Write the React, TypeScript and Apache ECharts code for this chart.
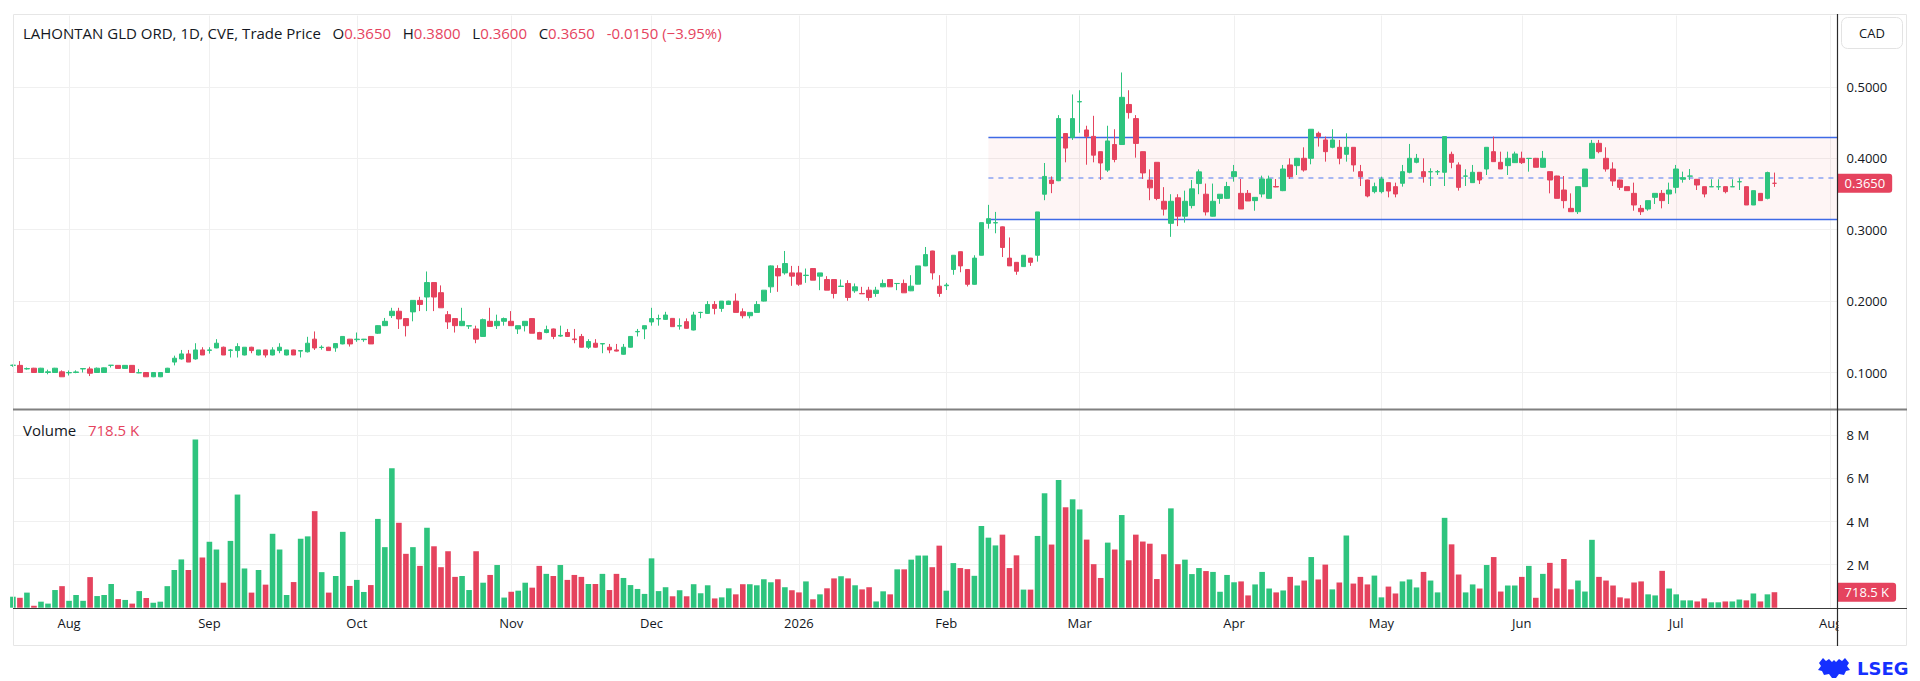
import React, { useEffect, useRef } from 'react';
import * as echarts from 'echarts';

// ---------- calendar ----------
const FIRST_DAY = [2025, 6, 22]; // 2025-07-22 (month is 0-based)
const SLOT_COUNT = 261; // trading days incl. empty right margin
const HOLIDAYS = [
  '2025-08-04', '2025-09-01', '2025-10-13', '2025-12-25', '2025-12-26',
  '2026-01-01', '2026-02-16', '2026-04-03', '2026-05-18', '2026-07-01', '2026-08-03',
];
const MONTH_LABELS = ['Jan', 'Feb', 'Mar', 'Apr', 'May', 'Jun', 'Jul', 'Aug', 'Sep', 'Oct', 'Nov', 'Dec'];

// ---------- price data (CAD) ----------
const OPEN = [
  0.110, 0.110, 0.105, 0.106, 0.100, 0.100, 0.100, 0.101, 0.0995, 0.100,
  0.105, 0.105, 0.100, 0.100, 0.110, 0.110, 0.1057, 0.110, 0.0995, 0.100,
  0.094, 0.094, 0.100, 0.1146, 0.119, 0.126, 0.119, 0.1316, 0.131, 0.1344,
  0.1354, 0.131, 0.1307, 0.1245, 0.1354, 0.1245, 0.1316, 0.1245, 0.1307, 0.1245,
  0.1316, 0.130, 0.129, 0.1467, 0.135, 0.1354, 0.1345, 0.140, 0.1467, 0.146,
  0.146, 0.1505, 0.155, 0.1656, 0.1797, 0.1858, 0.1755, 0.1849, 0.201, 0.2057,
  0.226, 0.2118, 0.181, 0.1755, 0.1656, 0.165, 0.161, 0.1505, 0.1717, 0.1656,
  0.1717, 0.1717, 0.161, 0.1656, 0.1755, 0.156, 0.156, 0.161, 0.151, 0.156,
  0.147, 0.1505, 0.1354, 0.141, 0.140, 0.1354, 0.1316, 0.1255, 0.1354, 0.157,
  0.161, 0.1708, 0.175, 0.1744, 0.1758, 0.165, 0.1712, 0.1595, 0.184, 0.1828,
  0.1953, 0.1898, 0.1953, 0.200, 0.185, 0.1795, 0.1842, 0.200, 0.220, 0.2456,
  0.2395, 0.2395, 0.2395, 0.2358, 0.2456, 0.2349, 0.2302, 0.2302, 0.2205, 0.2247,
  0.2144, 0.2107, 0.2153, 0.2107, 0.220, 0.2302, 0.2246, 0.2247, 0.2144, 0.2237,
  0.2493, 0.2702, 0.2209, 0.2215, 0.2443, 0.2692, 0.2443, 0.2235, 0.2642, 0.3089,
  0.3095, 0.304, 0.2602, 0.2543, 0.2483, 0.2602, 0.2642, 0.3497, 0.3696, 0.3686,
  0.4347, 0.4292, 0.4790, 0.4397, 0.4307, 0.4093, 0.3835, 0.4193, 0.4193, 0.4754,
  0.4556, 0.4093, 0.3696, 0.3944, 0.3398, 0.3089, 0.3447, 0.3189, 0.3338, 0.3646,
  0.3497, 0.3189, 0.3437, 0.3439, 0.3743, 0.3509, 0.3509, 0.3407, 0.350, 0.3439,
  0.3605, 0.3547, 0.3907, 0.3897, 0.400, 0.400, 0.435, 0.4257, 0.4154, 0.4154,
  0.4056, 0.4154, 0.3813, 0.3696, 0.3533, 0.3533, 0.3659, 0.3603, 0.365, 0.3804,
  0.3944, 0.3813, 0.381, 0.381, 0.3804, 0.4056, 0.3907, 0.375, 0.3659, 0.3804,
  0.385, 0.4093, 0.3944, 0.3897, 0.3939, 0.400, 0.3997, 0.400, 0.3874, 0.3813,
  0.3752, 0.3556, 0.3299, 0.3252, 0.3603, 0.400, 0.421, 0.400, 0.385, 0.3696,
  0.3603, 0.3509, 0.3299, 0.329, 0.3453, 0.3509, 0.350, 0.3593, 0.3706, 0.375,
  0.3706, 0.3603, 0.360, 0.360, 0.3603, 0.360, 0.367, 0.3603, 0.3346, 0.3509,
  0.3439, 0.365,
];
const HIGH = [
  0.111, 0.116, 0.107, 0.1065, 0.1065, 0.104, 0.1065, 0.103, 0.1028, 0.103,
  0.106, 0.108, 0.107, 0.107, 0.1105, 0.1105, 0.1105, 0.1105, 0.105, 0.1005,
  0.1005, 0.1005, 0.1065, 0.1236, 0.1316, 0.1316, 0.141, 0.1354, 0.1354, 0.1467,
  0.1363, 0.133, 0.141, 0.1354, 0.136, 0.1316, 0.132, 0.1354, 0.141, 0.1316,
  0.132, 0.1312, 0.150, 0.1575, 0.138, 0.136, 0.1405, 0.151, 0.147, 0.156,
  0.147, 0.151, 0.166, 0.1764, 0.1906, 0.1906, 0.176, 0.201, 0.206, 0.2415,
  0.2265, 0.222, 0.186, 0.176, 0.1906, 0.166, 0.1656, 0.1755, 0.1906, 0.181,
  0.177, 0.186, 0.1656, 0.172, 0.176, 0.157, 0.1656, 0.1615, 0.1656, 0.161,
  0.161, 0.154, 0.1467, 0.1467, 0.141, 0.140, 0.140, 0.140, 0.151, 0.161,
  0.1656, 0.1906, 0.181, 0.185, 0.176, 0.1758, 0.1758, 0.185, 0.185, 0.200,
  0.200, 0.200, 0.2005, 0.2107, 0.1898, 0.1842, 0.200, 0.2153, 0.250, 0.2502,
  0.2702, 0.2493, 0.2493, 0.2456, 0.246, 0.2395, 0.2349, 0.2305, 0.2302, 0.2293,
  0.2247, 0.220, 0.220, 0.220, 0.2302, 0.2305, 0.225, 0.2302, 0.2363, 0.2493,
  0.2758, 0.2705, 0.2363, 0.2255, 0.2645, 0.2695, 0.2445, 0.2642, 0.3099, 0.3348,
  0.3249, 0.3045, 0.2891, 0.2545, 0.2645, 0.2605, 0.3249, 0.3934, 0.3746, 0.4605,
  0.435, 0.4894, 0.4953, 0.4456, 0.4595, 0.4095, 0.4456, 0.4407, 0.5202, 0.4953,
  0.4605, 0.4095, 0.3845, 0.3945, 0.3596, 0.3497, 0.3497, 0.3547, 0.3696, 0.3845,
  0.3646, 0.3646, 0.350, 0.367, 0.3907, 0.371, 0.3556, 0.3455, 0.3757, 0.3757,
  0.371, 0.3907, 0.400, 0.4005, 0.4154, 0.4407, 0.4374, 0.4304, 0.4407, 0.4257,
  0.435, 0.4155, 0.3907, 0.370, 0.3659, 0.3743, 0.366, 0.3659, 0.3907, 0.4201,
  0.4061, 0.400, 0.386, 0.3836, 0.4304, 0.4093, 0.3944, 0.3846, 0.3907, 0.3805,
  0.4154, 0.4304, 0.4093, 0.4093, 0.4093, 0.4093, 0.400, 0.4005, 0.4103, 0.3815,
  0.3755, 0.3752, 0.3509, 0.3603, 0.385, 0.4257, 0.4257, 0.4154, 0.3944, 0.370,
  0.3605, 0.3659, 0.3346, 0.3407, 0.351, 0.3556, 0.3659, 0.3907, 0.3813, 0.385,
  0.371, 0.3605, 0.3706, 0.3706, 0.3605, 0.3706, 0.372, 0.3605, 0.3547, 0.351,
  0.3813, 0.380,
];
const LOW = [
  0.108, 0.0995, 0.104, 0.0995, 0.0995, 0.0975, 0.0995, 0.094, 0.0958, 0.099,
  0.100, 0.095, 0.0995, 0.0995, 0.107, 0.1055, 0.105, 0.0995, 0.099, 0.094,
  0.0935, 0.0935, 0.0995, 0.110, 0.118, 0.1146, 0.118, 0.1245, 0.1265, 0.134,
  0.1245, 0.121, 0.121, 0.124, 0.127, 0.124, 0.121, 0.124, 0.127, 0.124,
  0.1245, 0.121, 0.128, 0.1316, 0.132, 0.1307, 0.129, 0.1395, 0.1363, 0.143,
  0.143, 0.140, 0.154, 0.165, 0.1764, 0.161, 0.1505, 0.1717, 0.186, 0.186,
  0.186, 0.1906, 0.161, 0.156, 0.165, 0.161, 0.141, 0.150, 0.164, 0.161,
  0.1656, 0.1656, 0.154, 0.1575, 0.155, 0.1467, 0.155, 0.1467, 0.150, 0.150,
  0.141, 0.135, 0.133, 0.135, 0.127, 0.127, 0.1295, 0.125, 0.135, 0.1505,
  0.1467, 0.1656, 0.1656, 0.174, 0.1642, 0.160, 0.1615, 0.159, 0.176, 0.182,
  0.1814, 0.185, 0.195, 0.1842, 0.1758, 0.1758, 0.184, 0.1995, 0.2116, 0.213,
  0.237, 0.2214, 0.2214, 0.2256, 0.2293, 0.2153, 0.2153, 0.2037, 0.220, 0.2005,
  0.2116, 0.210, 0.2005, 0.206, 0.2195, 0.220, 0.2153, 0.2116, 0.214, 0.2235,
  0.249, 0.2302, 0.206, 0.2155, 0.2369, 0.2404, 0.2205, 0.223, 0.264, 0.3015,
  0.295, 0.2617, 0.2493, 0.2369, 0.248, 0.2493, 0.2553, 0.3413, 0.3512, 0.368,
  0.3944, 0.4257, 0.4357, 0.391, 0.3944, 0.3696, 0.381, 0.3944, 0.419, 0.4556,
  0.4009, 0.3711, 0.3413, 0.3413, 0.3199, 0.290, 0.305, 0.3099, 0.3298, 0.3497,
  0.3199, 0.3185, 0.3363, 0.343, 0.3673, 0.329, 0.3402, 0.3266, 0.3453, 0.3435,
  0.3595, 0.354, 0.371, 0.3766, 0.3813, 0.3916, 0.4164, 0.3953, 0.414, 0.3916,
  0.3953, 0.3813, 0.3612, 0.3453, 0.3509, 0.3509, 0.3453, 0.3453, 0.3603, 0.379,
  0.393, 0.3659, 0.3612, 0.3766, 0.3612, 0.386, 0.3547, 0.3612, 0.3655, 0.364,
  0.3766, 0.3953, 0.385, 0.3766, 0.3935, 0.392, 0.3813, 0.3874, 0.387, 0.3509,
  0.3439, 0.3299, 0.325, 0.322, 0.360, 0.3995, 0.407, 0.3813, 0.3612, 0.3556,
  0.3545, 0.3266, 0.3206, 0.3266, 0.336, 0.3299, 0.336, 0.3509, 0.3659, 0.3696,
  0.3556, 0.3453, 0.3598, 0.3556, 0.3509, 0.3598, 0.3556, 0.3346, 0.3345, 0.3407,
  0.3425, 0.360,
];
const CLOSE = [
  0.1102, 0.100, 0.1055, 0.100, 0.106, 0.101, 0.106, 0.094, 0.100, 0.1008,
  0.1055, 0.099, 0.106, 0.1065, 0.1102, 0.1057, 0.110, 0.100, 0.0998, 0.094,
  0.100, 0.100, 0.106, 0.120, 0.126, 0.1146, 0.1316, 0.1245, 0.1316, 0.141,
  0.1245, 0.1316, 0.1363, 0.1354, 0.1307, 0.1316, 0.1245, 0.1316, 0.1354, 0.1316,
  0.1245, 0.1307, 0.141, 0.1344, 0.1354, 0.1307, 0.1405, 0.1505, 0.140, 0.1467,
  0.1467, 0.140, 0.1656, 0.1717, 0.1858, 0.175, 0.1656, 0.201, 0.1953, 0.226,
  0.2057, 0.1906, 0.1708, 0.1656, 0.1717, 0.1656, 0.1467, 0.174, 0.1646, 0.1717,
  0.1755, 0.1656, 0.1656, 0.1717, 0.155, 0.1467, 0.160, 0.1505, 0.152, 0.1505,
  0.146, 0.1354, 0.1434, 0.1354, 0.1405, 0.1316, 0.130, 0.1354, 0.1505, 0.1575,
  0.1656, 0.1755, 0.1755, 0.1805, 0.1642, 0.1656, 0.1619, 0.1805, 0.1842, 0.1953,
  0.1898, 0.200, 0.200, 0.1842, 0.1795, 0.1842, 0.1953, 0.2153, 0.2493, 0.2353,
  0.2526, 0.2349, 0.2237, 0.2363, 0.2293, 0.2395, 0.2153, 0.2107, 0.221, 0.2051,
  0.220, 0.2102, 0.2051, 0.2153, 0.2247, 0.220, 0.2247, 0.2116, 0.2209, 0.2493,
  0.2651, 0.2395, 0.2107, 0.2225, 0.2642, 0.2493, 0.2235, 0.2602, 0.3099, 0.3154,
  0.3099, 0.2751, 0.2493, 0.2418, 0.2642, 0.2543, 0.3249, 0.3746, 0.3646, 0.4556,
  0.4143, 0.4556, 0.4794, 0.4307, 0.4044, 0.3934, 0.4243, 0.3984, 0.4854, 0.464,
  0.4208, 0.3795, 0.3586, 0.3437, 0.3288, 0.3398, 0.3189, 0.3398, 0.3572, 0.381,
  0.3249, 0.3398, 0.3497, 0.3605, 0.3813, 0.329, 0.3402, 0.3453, 0.371, 0.371,
  0.3598, 0.385, 0.3743, 0.400, 0.3836, 0.4407, 0.4304, 0.4093, 0.4257, 0.400,
  0.4154, 0.3907, 0.3743, 0.3472, 0.3603, 0.371, 0.3542, 0.350, 0.3813, 0.400,
  0.400, 0.3743, 0.3813, 0.3813, 0.4304, 0.3944, 0.3593, 0.3752, 0.3804, 0.3696,
  0.4154, 0.3953, 0.385, 0.400, 0.4061, 0.3939, 0.400, 0.3874, 0.400, 0.3696,
  0.3439, 0.3407, 0.3252, 0.3603, 0.385, 0.421, 0.4093, 0.385, 0.3682, 0.3593,
  0.3547, 0.3346, 0.3252, 0.3407, 0.3509, 0.3407, 0.3556, 0.385, 0.3729, 0.3752,
  0.3626, 0.350, 0.3603, 0.3603, 0.3533, 0.3603, 0.3673, 0.3346, 0.3547, 0.3407,
  0.380, 0.365,
];
// volume, millions of shares
const VOLUME = [
  0.51, 0.46, 0.70, 0.09, 0.28, 0.19, 0.82, 1.00, 0.32, 0.59,
  0.32, 1.42, 0.54, 0.59, 1.10, 0.40, 0.36, 0.19, 0.77, 0.45,
  0.23, 0.28, 1.00, 1.75, 2.24, 1.75, 7.81, 2.33, 3.06, 2.70,
  1.16, 3.10, 5.25, 1.82, 0.70, 1.75, 1.07, 3.43, 2.70, 0.59,
  1.19, 3.20, 3.31, 4.48, 1.65, 0.70, 1.47, 3.52, 1.01, 1.29,
  0.73, 1.05, 4.12, 2.81, 6.47, 3.94, 2.50, 2.81, 1.94, 3.71,
  2.85, 1.88, 2.62, 1.43, 1.47, 0.82, 2.62, 1.16, 1.52, 1.98,
  0.47, 0.74, 0.79, 1.16, 0.93, 1.94, 1.57, 1.47, 1.98, 1.29,
  1.52, 1.43, 1.10, 1.10, 1.57, 0.82, 1.57, 1.38, 1.05, 0.87,
  0.64, 2.29, 0.77, 0.95, 0.53, 0.81, 0.53, 1.09, 0.67, 1.04,
  0.43, 0.48, 0.90, 0.62, 1.09, 1.09, 1.04, 1.32, 1.18, 1.32,
  0.95, 0.81, 0.71, 1.22, 0.39, 0.62, 0.90, 1.36, 1.46, 1.36,
  1.04, 0.85, 0.95, 0.29, 0.76, 0.62, 1.78, 1.78, 2.23, 2.42,
  2.42, 1.88, 2.88, 0.79, 2.07, 1.84, 1.79, 1.48, 3.79, 3.25,
  2.89, 3.39, 1.84, 2.43, 0.84, 0.84, 3.33, 5.31, 2.93, 5.93,
  4.66, 5.03, 4.56, 3.16, 2.02, 1.38, 3.02, 2.70, 4.30, 2.20,
  3.39, 3.07, 2.97, 1.33, 2.48, 4.61, 2.02, 2.23, 1.56, 1.84,
  1.70, 1.66, 0.74, 1.52, 1.18, 1.22, 0.57, 1.08, 1.66, 0.89,
  0.71, 0.80, 1.43, 1.03, 1.26, 2.35, 1.31, 2.00, 0.85, 1.17,
  3.35, 1.12, 1.43, 1.08, 1.49, 0.48, 0.98, 0.66, 1.22, 1.31,
  0.94, 1.66, 1.26, 0.71, 4.17, 2.94, 1.54, 0.71, 1.08, 0.89,
  1.98, 2.35, 0.75, 1.03, 1.03, 1.43, 1.94, 0.46, 1.57, 2.08,
  0.89, 2.26, 0.85, 1.26, 0.75, 3.15, 1.43, 1.26, 1.03, 0.48,
  0.43, 1.17, 1.22, 0.62, 0.57, 1.71, 0.89, 0.62, 0.34, 0.34,
  0.29, 0.43, 0.25, 0.25, 0.29, 0.29, 0.38, 0.34, 0.66, 0.29,
  0.62, 0.7185,
];

// ---------- drawn range box ----------
const RANGE_START_BAR = 139;
const RANGE_TOP = 0.43;
const RANGE_BOTTOM = 0.315;

// ---------- axes ----------
const PRICE_MIN = 0;
const PRICE_MAX = 0.6;
const PRICE_STEP = 0.1;
const VOL_MIN = 0;
const VOL_MAX = 10;
const VOL_STEP = 2;

const TITLE = 'LAHONTAN GLD ORD, 1D, CVE, Trade Price';
const CURRENCY = 'CAD';

// ---------- style ----------
const UP = '#2ec47e';
const DOWN = '#e5435e';
const TEXT = '#131722';
const GRID = '#f0f0f0';
const BLUE = '#3e6ae6';
const FONT = "'Open Sans', 'Noto Sans', sans-serif";
const CREST = 'M2 5 L6 0 L9 3 L12 1 L15 4 L17 2 L19 4 L22 1 L25 3 L28 0 L32 5 L30 8 L33 12 L29 13 L27 17 L22 16 L19 20 L15 20 L12 16 L7 17 L5 13 L1 12 L4 8 Z';

function tradingDays(): string[] {
  const out: string[] = [];
  const d = new Date(Date.UTC(FIRST_DAY[0], FIRST_DAY[1], FIRST_DAY[2]));
  while (out.length < SLOT_COUNT) {
    const dow = d.getUTCDay();
    const s = d.toISOString().slice(0, 10);
    if (dow !== 0 && dow !== 6 && HOLIDAYS.indexOf(s) < 0) out.push(s);
    d.setUTCDate(d.getUTCDate() + 1);
  }
  return out;
}

export default function App() {
  const ref = useRef<HTMLDivElement>(null);
  useEffect(() => {
    if (!ref.current) return;
    echarts.graphic.registerShape('lsegCrest', echarts.graphic.extendPath(CREST, {}) as any);
    const chart = echarts.init(ref.current, null, { renderer: 'svg' });

    const dates = tradingDays();
    const monthStart = dates.map((d, i) => i > 0 && d.slice(0, 7) !== dates[i - 1].slice(0, 7));
    const showMonth = (index: number) => monthStart[index];
    const monthLabel = (v: string) => {
      const m = Number(v.slice(5, 7)) - 1;
      return m === 0 ? v.slice(0, 4) : MONTH_LABELS[m];
    };
    const n = OPEN.length;
    const last = n - 1;
    const lastSlot = dates[dates.length - 1];
    const signs = CLOSE.map((c, i) => {
      const o = OPEN[i];
      if (o > c) return -1;
      if (o < c) return 1;
      return i > 0 && CLOSE[i - 1] > c ? -1 : 1;
    });
    const f4 = (v: number) => v.toFixed(4);
    const chg = CLOSE[last] - CLOSE[last - 1];
    const pct = (chg / CLOSE[last - 1]) * 100;
    const chgText = `${chg < 0 ? '-' : '+'}${Math.abs(chg).toFixed(4)} (${chg < 0 ? '\u2212' : '+'}${Math.abs(pct).toFixed(2)}%)`;
    const lastColor = signs[last] > 0 ? UP : DOWN;
    const volText = (v: number) => (v >= 1 ? `${v.toFixed(1)} M` : `${(v * 1000).toFixed(1)} K`);

    const xBase = {
      type: 'category',
      data: dates,
      boundaryGap: false,
      axisLine: { show: false },
      axisTick: { show: false },
      splitLine: { show: true, interval: showMonth, lineStyle: { color: GRID, width: 1 } },
    };
    const lastLabel = (color: string, text: string) => ({
      show: true,
      position: 'end',
      distance: 0,
      formatter: text,
      color: '#ffffff',
      backgroundColor: color,
      borderRadius: [0, 3, 3, 0],
      padding: [3, 7, 3, 7],
      fontSize: 13,
      fontFamily: FONT,
    });

    const option: any = {
      animation: false,
      backgroundColor: '#ffffff',
      textStyle: { fontFamily: FONT },
      grid: [
        { left: 12.9, top: 15.5, width: 1824.7, height: 428.4, containLabel: false, outerBoundsMode: 'none' },
        { left: 12.9, top: 392.2, width: 1824.7, height: 215.5, containLabel: false, outerBoundsMode: 'none' },
      ],
      xAxis: [
        { ...xBase, gridIndex: 0, axisLabel: { show: false } },
        {
          ...xBase,
          gridIndex: 1,
          axisLabel: {
            show: true,
            interval: showMonth,
            formatter: monthLabel,
            color: TEXT,
            fontSize: 13,
            fontFamily: FONT,
            margin: 9,
          },
        },
      ],
      yAxis: [
        {
          type: 'value',
          gridIndex: 0,
          position: 'right',
          min: PRICE_MIN,
          max: PRICE_MAX,
          interval: PRICE_STEP,
          axisLine: { show: false },
          axisTick: { show: false },
          axisLabel: {
            margin: 9,
            color: TEXT,
            fontSize: 13,
            fontFamily: FONT,
            formatter: (v: number) => (v <= PRICE_MIN + 1e-9 || v >= PRICE_MAX - 1e-9 ? '' : f4(v)),
          },
          splitLine: { show: true, showMinLine: false, showMaxLine: false, lineStyle: { color: GRID } },
        },
        {
          type: 'value',
          gridIndex: 1,
          position: 'right',
          min: VOL_MIN,
          max: VOL_MAX,
          interval: VOL_STEP,
          axisLine: { show: false },
          axisTick: { show: false },
          axisLabel: {
            margin: 9,
            color: TEXT,
            fontSize: 13,
            fontFamily: FONT,
            formatter: (v: number) => (v <= VOL_MIN || v >= VOL_MAX ? '' : `${v} M`),
          },
          splitLine: { show: true, showMinLine: false, showMaxLine: false, lineStyle: { color: GRID } },
        },
      ],
      series: [
        {
          type: 'candlestick',
          xAxisIndex: 0,
          yAxisIndex: 0,
          barWidth: 5,
          z: 5,
          data: OPEN.map((o, i) => [o, CLOSE[i], LOW[i], HIGH[i]]),
          itemStyle: { color: UP, color0: DOWN, borderColor: UP, borderColor0: DOWN, borderWidth: 1 },
          emphasis: { disabled: true },
          markArea: {
            silent: true,
            itemStyle: { color: 'rgba(235, 80, 80, 0.055)' },
            data: [[{ xAxis: dates[RANGE_START_BAR], yAxis: RANGE_BOTTOM }, { xAxis: lastSlot, yAxis: RANGE_TOP }]],
          },
          markLine: {
            silent: true,
            symbol: ['none', 'none'],
            label: { show: false },
            data: [
              [
                { coord: [dates[RANGE_START_BAR], RANGE_TOP], lineStyle: { color: BLUE, width: 1.3, type: 'solid' } },
                { coord: [lastSlot, RANGE_TOP] },
              ],
              [
                { coord: [dates[RANGE_START_BAR], RANGE_BOTTOM], lineStyle: { color: BLUE, width: 1.3, type: 'solid' } },
                { coord: [lastSlot, RANGE_BOTTOM] },
              ],
              [
                {
                  coord: [dates[RANGE_START_BAR], (RANGE_TOP + RANGE_BOTTOM) / 2],
                  lineStyle: { color: '#8aa3f2', width: 1.5, type: [5, 5] },
                },
                { coord: [lastSlot, (RANGE_TOP + RANGE_BOTTOM) / 2] },
              ],
              [
                {
                  coord: [dates[0], CLOSE[last]],
                  lineStyle: { color: 'transparent', width: 1 },
                  label: lastLabel(lastColor, f4(CLOSE[last])),
                },
                { coord: [lastSlot, CLOSE[last]] },
              ],
            ],
          },
        },
        {
          type: 'bar',
          xAxisIndex: 1,
          yAxisIndex: 1,
          barWidth: 5.6,
          z: 5,
          data: VOLUME.map((v, i) => ({ value: v, itemStyle: { color: signs[i] > 0 ? UP : DOWN } })),
          emphasis: { disabled: true },
          markLine: {
            silent: true,
            symbol: ['none', 'none'],
            data: [
              [
                {
                  coord: [dates[0], VOLUME[last]],
                  lineStyle: { color: 'transparent', width: 1 },
                  label: lastLabel(lastColor, volText(VOLUME[last])),
                },
                { coord: [lastSlot, VOLUME[last]] },
              ],
            ],
          },
        },
      ],
      graphic: [
        { type: 'rect', z: 50, silent: true, shape: { x: 1838.5, y: 609.5, width: 68, height: 36 }, style: { fill: '#ffffff' } },
        { type: 'rect', z: 100, silent: true, shape: { x: 13.5, y: 14.5, width: 1893, height: 631 }, style: { fill: 'none', stroke: '#e6e6e6', lineWidth: 1 } },
        { type: 'line', z: 100, silent: true, shape: { x1: 13, y1: 409.5, x2: 1907, y2: 409.5 }, style: { stroke: '#808080', lineWidth: 2 } },
        { type: 'line', z: 100, silent: true, shape: { x1: 13, y1: 608.5, x2: 1907, y2: 608.5 }, style: { stroke: '#3a3a3a', lineWidth: 1 } },
        { type: 'line', z: 100, silent: true, shape: { x1: 1837.5, y1: 14, x2: 1837.5, y2: 646 }, style: { stroke: '#2a2a2a', lineWidth: 1.2 } },
        { type: 'rect', z: 100, silent: true, shape: { x: 1841.5, y: 17.5, width: 61, height: 31, r: 6 }, style: { fill: '#ffffff', stroke: '#e3e3e3', lineWidth: 1 } },
        { type: 'text', z: 101, silent: true, x: 1872, y: 33, style: { text: CURRENCY, fill: TEXT, fontSize: 13, fontFamily: FONT, align: 'center', verticalAlign: 'middle' } },
        {
          type: 'text',
          z: 101,
          silent: true,
          x: 23,
          y: 33,
          style: {
            text:
              `{t|${TITLE}}{t|   O}{v|${f4(OPEN[last])}}{t|   H}{v|${f4(HIGH[last])}}` +
              `{t|   L}{v|${f4(LOW[last])}}{t|   C}{v|${f4(CLOSE[last])}}{v|   ${chgText}}`,
            verticalAlign: 'middle',
            fontSize: 15,
            fontFamily: FONT,
            rich: {
              t: { fill: TEXT, fontSize: 15, fontFamily: FONT },
              v: { fill: lastColor, fontSize: 15, fontFamily: FONT },
            },
          },
        },
        {
          type: 'text',
          z: 101,
          silent: true,
          x: 23,
          y: 430,
          style: {
            text: `{t|Volume}{v|   ${volText(VOLUME[last])}}`,
            verticalAlign: 'middle',
            fontSize: 15,
            fontFamily: FONT,
            rich: {
              t: { fill: TEXT, fontSize: 15, fontFamily: FONT },
              v: { fill: lastColor, fontSize: 15, fontFamily: FONT },
            },
          },
        },
        { type: 'lsegCrest', z: 101, silent: true, x: 1817, y: 658, scaleX: 1, scaleY: 1, style: { fill: '#1530ff' } },
        {
          type: 'text',
          z: 101,
          silent: true,
          x: 1857,
          y: 668,
          style: { text: 'LSEG', fill: '#1530ff', fontSize: 18, fontWeight: 'bold', fontFamily: "'DejaVu Sans', sans-serif", verticalAlign: 'middle' },
        },
      ],
    };
    chart.setOption(option);
    return () => chart.dispose();
  }, []);
  return (
    <div
      ref={ref}
      style={{ position: 'fixed', left: 0, top: 0, width: 1920, height: 681, background: '#ffffff' }}
    />
  );
}
